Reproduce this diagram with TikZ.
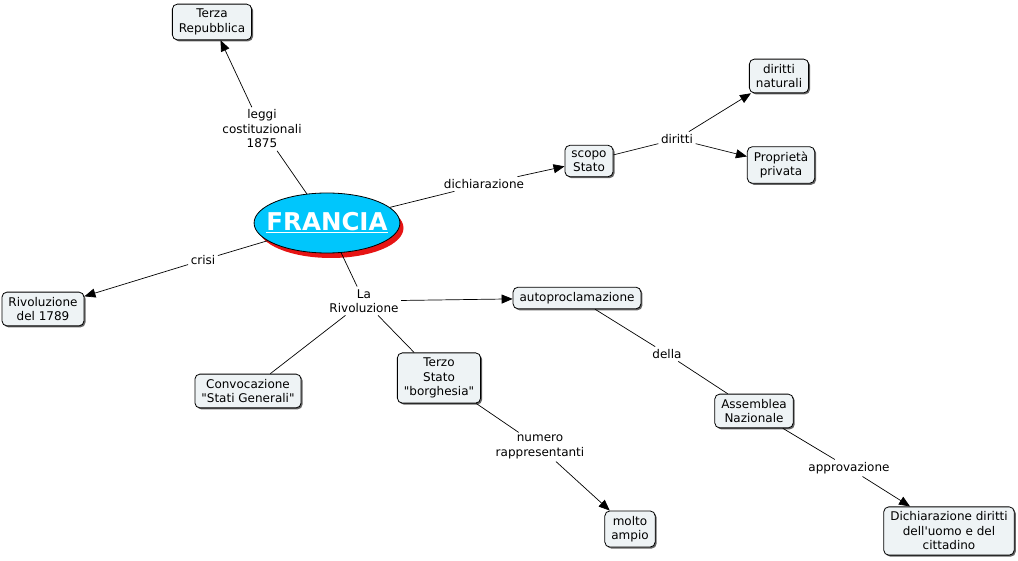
\documentclass[tikz,border=0pt]{standalone}
\usepackage{fontspec}
\newfontfamily\dv{DejaVu Sans}
\usetikzlibrary{shapes.geometric,arrows.meta,shadows}
\definecolor{boxfill}{RGB}{238,243,245}
\definecolor{franciablue}{RGB}{0,198,252}
\definecolor{franciared}{RGB}{230,20,20}
\begin{document}
\begin{tikzpicture}[x=1pt,y=-1pt,
  every node/.style={font=\dv\fontsize{12}{14.5}\selectfont},
  concept/.style={draw=black, line width=0.8pt, fill=boxfill, rounded corners=5pt,
    align=center, inner xsep=6.5pt, inner ysep=5pt,
    drop shadow={shadow xshift=1.5pt, shadow yshift=-1.5pt, fill=black!60, opacity=1}},
  link/.style={align=center, inner sep=2.5pt},
  conn/.style={draw=black, line width=0.7pt},
  arr/.style={conn, -{Triangle[length=11pt,width=9pt]}}]
\useasboundingbox (0,0) rectangle (1018,561);

% main concept
\fill[franciared] (331,228) ellipse [x radius=72.5pt, y radius=30pt];
\node[ellipse, draw=black, line width=0.8pt, fill=franciablue, minimum width=145pt, minimum height=60pt,
  inner xsep=-9pt, inner ysep=0pt,
  font=\dv\fontsize{24.5}{28}\selectfont\bfseries, text=white] (F) at (327,223) {\underline{FRANCIA}};

% concepts
\node[concept] (TR) at (212,22) {Terza\\Repubblica};
\node[concept] (SS) at (589,161) {scopo\\Stato};
\node[concept] (DN) at (779,76) {diritti\\naturali};
\node[concept] (PP) at (781,165) {Proprietà\\privata};
\node[concept] (R89) at (43,309) {Rivoluzione\\del 1789};
\node[concept] (AU) at (577,298) {autoproclamazione};
\node[concept] (AN) at (754,411) {Assemblea\\Nazionale};
\node[concept] (DD) at (949,531) {Dichiarazione diritti\\dell'uomo e del\\cittadino};
\node[concept] (CS) at (248,391) {Convocazione\\"Stati Generali"};
\node[concept] (TS) at (439,378) {Terzo\\Stato\\"borghesia"};
\node[concept] (MA) at (630,529) {molto\\ampio};

% linking phrases
\node[link] (L1) at (262,129) {leggi\\costituzionali\\1875};
\node[link] (L2) at (484,184) {dichiarazione};
\node[link] (L3) at (677,139) {diritti};
\node[link] (L4) at (203,260) {crisi};
\node[link] (L5) at (364,301) {La\\Rivoluzione};
\node[link] (L6) at (667,354) {della};
\node[link] (L7) at (849,468) {approvazione};
\node[link] (L8) at (540,447) {numero\\rappresentanti};

% connectors
\draw[conn] (F) -- (L1);
\draw[arr] (L1) -- (TR);
\draw[conn] (F) -- (L2);
\draw[arr] (L2) -- (SS);
\draw[conn] (SS) -- (L3);
\draw[arr] (L3) -- (DN);
\draw[arr] (L3) -- (PP);
\draw[conn] (F) -- (L4);
\draw[arr] (L4) -- (R89);
\draw[conn] (F) -- (L5);
\draw[arr] (L5) -- (AU);
\draw[conn] (L5) -- (CS);
\draw[conn] (L5) -- (TS);
\draw[conn] (AU) -- (L6);
\draw[conn] (L6) -- (AN);
\draw[conn] (AN) -- (L7);
\draw[arr] (L7) -- (DD);
\draw[conn] (TS) -- (L8);
\draw[arr] (L8) -- (MA);
\end{tikzpicture}
\end{document}
